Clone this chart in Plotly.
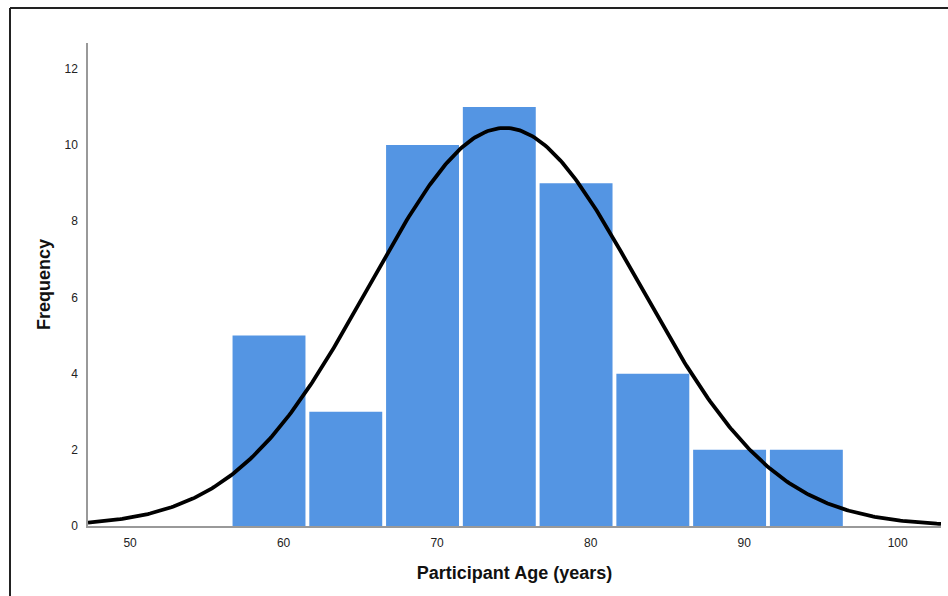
import numpy as np
import plotly.graph_objects as go

# Histogram data
bin_centers = [59.05, 64.05, 69.05, 74.05, 79.05, 84.05, 89.05, 94.05]
counts = [5, 3, 10, 11, 9, 4, 2, 2]
bin_width = 5.0

# Fitted normal curve parameters
mean_age = 74.4
sd_age = 8.78
n_total = sum(counts)

x_range = [47.26, 102.82]
y_range = [0, 12.68]
x_ticks = [50, 60, 70, 80, 90, 100]
y_ticks = [0, 2, 4, 6, 8, 10, 12]

xs = np.linspace(x_range[0], x_range[1], 400)
ys = n_total * bin_width / (sd_age * np.sqrt(2 * np.pi)) * np.exp(-0.5 * ((xs - mean_age) / sd_age) ** 2)

fig = go.Figure()
fig.add_trace(go.Bar(
    x=bin_centers, y=counts, width=bin_width * 0.95,
    marker=dict(color="#5495E3", line=dict(width=0)),
    showlegend=False, hoverinfo="x+y",
))
fig.add_trace(go.Scatter(
    x=xs, y=ys, mode="lines",
    line=dict(color="black", width=3.8),
    showlegend=False, hoverinfo="skip",
))

font_family = "Liberation Sans, Arial, sans-serif"
fig.update_layout(
    width=948, height=596,
    margin=dict(l=88, r=7, t=43, b=70),
    paper_bgcolor="white", plot_bgcolor="white",
    font=dict(family=font_family, size=12, color="#222"),
    xaxis=dict(
        range=x_range, tickvals=x_ticks, showgrid=False, zeroline=False,
        showline=True, linecolor="#999", linewidth=1.5, ticks="",
        ticklabelstandoff=5,
        title=dict(text="<b>Participant Age (years)</b>", font=dict(size=18, color="#111"), standoff=17),
    ),
    yaxis=dict(
        range=y_range, tickvals=y_ticks, showgrid=False, zeroline=False,
        showline=True, linecolor="#999", linewidth=1.5, ticks="",
        ticklabelstandoff=6,
        title=dict(text="<b>Frequency</b>", font=dict(size=18, color="#111"), standoff=9),
    ),
    shapes=[
        dict(type="line", xref="paper", yref="paper",
             x0=(10 - 88) / 853, x1=(960 - 88) / 853,
             y0=(526 - 8) / 483, y1=(526 - 8) / 483,
             line=dict(color="#222", width=2)),
        dict(type="line", xref="paper", yref="paper",
             x0=(10 - 88) / 853, x1=(10 - 88) / 853,
             y0=(526 - 8) / 483, y1=(526 - 610) / 483,
             line=dict(color="#222", width=2)),
    ],
)

fig.write_html("out.html")
